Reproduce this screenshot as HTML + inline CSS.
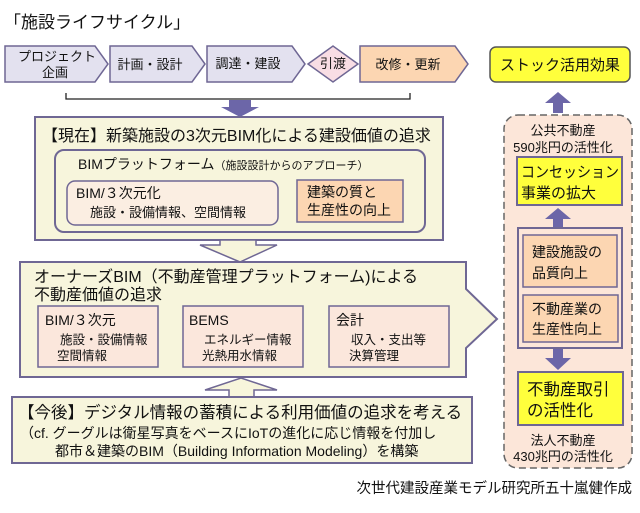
<!DOCTYPE html>
<html><head><meta charset="utf-8"><style>
body{margin:0;background:#fff}
svg{display:block}
text{font-family:"Liberation Sans","Noto Sans CJK JP",sans-serif;fill:#111}
</style></head><body>
<svg width="640" height="513" viewBox="0 0 640 513" xmlns="http://www.w3.org/2000/svg">
<text x="4" y="28" font-size="17">「施設ライフサイクル」</text>
<g stroke="#6f6794" stroke-width="1.5">
<polygon points="5,46 95,46 108,64 95,82 5,82" fill="#e3e1ef"/>
<polygon points="110,46 192,46 205,64 192,82 110,82" fill="#e3e1ef"/>
<polygon points="207,46 292,46 305,64 292,82 207,82" fill="#e3e1ef"/>
<polygon points="308,64 333,46 358,64 333,82" fill="#f8dde4"/>
<polygon points="360,46 455,46 468,64 455,82 360,82" fill="#fcd6b2"/>
</g>
<text x="57" y="61" font-size="13" text-anchor="middle">プロジェクト</text>
<text x="55" y="77" font-size="13" text-anchor="middle">企画</text>
<text x="150" y="69" font-size="13" text-anchor="middle">計画・設計</text>
<text x="248" y="68" font-size="13" text-anchor="middle">調達・建設</text>
<text x="333" y="68" font-size="13" text-anchor="middle">引渡</text>
<text x="408" y="69" font-size="13" text-anchor="middle">改修・更新</text>
<path d="M66,93 V99 H410 V93" fill="none" stroke="#222" stroke-width="1.3"/>
<polygon points="229,100 251,100 251,107 259,107 240,117 221,107 229,107" fill="#6c66a8"/>
<rect x="35" y="117" width="408" height="123" fill="#f7f5dc" stroke="#6f6794" stroke-width="2"/>
<text x="42" y="141" font-size="16">【現在】新築施設の3次元BIM化による建設価値の追求</text>
<rect x="55" y="150" width="370" height="82" rx="9" fill="#f7f5dc" stroke="#6f6794" stroke-width="2"/>
<text x="78" y="169" font-size="14">BIMプラットフォーム<tspan font-size="11">（施設設計からのアプローチ）</tspan></text>
<rect x="67" y="181" width="211" height="44" rx="8" fill="#fbeee2" stroke="#6f6794" stroke-width="1.5"/>
<text x="76" y="198" font-size="14">BIM/３次元化</text>
<text x="90" y="217" font-size="13">施設・設備情報、空間情報</text>
<rect x="297" y="180" width="106" height="42" fill="#fcd6b2" stroke="#6f6794" stroke-width="1.5"/>
<text x="307" y="197" font-size="14">建築の質と</text>
<text x="307" y="215" font-size="14">生産性の向上</text>
<polygon points="220,240 220,245 200,245 240,262 277,245 256,245 256,240" fill="#f7f5dc" stroke="#6f6794" stroke-width="1.5"/>
<polygon points="20,262 466,262 466,289 497,319 466,348 466,377 20,377" fill="#f7f5dc" stroke="#6f6794" stroke-width="2"/>
<text x="34" y="282" font-size="16">オーナーズBIM（不動産管理プラットフォーム)による</text>
<text x="34" y="300" font-size="16">不動産価値の追求</text>
<g fill="#fbe7dc" stroke="#6f6794" stroke-width="1.5">
<rect x="38" y="306" width="120" height="61"/>
<rect x="183" y="306" width="120" height="61"/>
<rect x="329" y="306" width="120" height="61"/>
</g>
<text x="45" y="325" font-size="14">BIM/３次元</text>
<text x="60" y="344" font-size="12.5">施設・設備情報</text>
<text x="57" y="360" font-size="12.5">空間情報</text>
<text x="189" y="325" font-size="14">BEMS</text>
<text x="204" y="344" font-size="12.5">エネルギー情報</text>
<text x="202" y="360" font-size="12.5">光熱用水情報</text>
<text x="336" y="325" font-size="14">会計</text>
<text x="351" y="344" font-size="12.5">収入・支出等</text>
<text x="349" y="360" font-size="12.5">決算管理</text>
<polygon points="229,398 229,390 205,390 241,378 277,390 254,390 254,398" fill="#f7f5dc" stroke="#6f6794" stroke-width="1.5"/>
<rect x="12" y="397" width="460" height="66" fill="#f7f5dc" stroke="#6f6794" stroke-width="2"/>
<text x="18" y="418" font-size="16.5">【今後】デジタル情報の蓄積による利用価値の追求を考える</text>
<text x="20" y="438" font-size="14">（cf. グーグルは衛星写真をベースにIoTの進化に応じ情報を付加し</text>
<text x="55" y="456" font-size="14">都市＆建築のBIM（Building Information Modeling）を構築</text>
<text x="632" y="493" font-size="14.5" text-anchor="end">次世代建設産業モデル研究所五十嵐健作成</text>
<rect x="490" y="47" width="140" height="35" rx="6" fill="#ffff3c" stroke="#555" stroke-width="1.5"/>
<text x="560" y="70" font-size="15" text-anchor="middle">ストック活用効果</text>
<polygon points="553,113 553,103 545,103 558,92 571,103 563,103 563,113" fill="#6c66a8"/>
<rect x="504" y="115" width="128" height="353" rx="14" fill="#fce6d9" stroke="#666" stroke-width="1.5" stroke-dasharray="7,4"/>
<text x="563" y="135" font-size="13" text-anchor="middle">公共不動産</text>
<text x="563" y="152" font-size="13" text-anchor="middle">590兆円の活性化</text>
<rect x="517" y="157" width="105" height="48" fill="#ffff3c" stroke="#6f6794" stroke-width="2"/>
<text x="521" y="177" font-size="15" textLength="98" lengthAdjust="spacingAndGlyphs">コンセッション</text>
<text x="521" y="198" font-size="15" textLength="75" lengthAdjust="spacingAndGlyphs">事業の拡大</text>
<polygon points="553,228 553,219 545,219 558,208 571,219 563,219 563,228" fill="#6c66a8"/>
<rect x="518" y="228" width="104" height="120" fill="#fce6d9" stroke="#6f6794" stroke-width="2"/>
<rect x="523" y="235" width="94" height="52" fill="#fcd6b2" stroke="#6f6794" stroke-width="1.5"/>
<text x="532" y="257" font-size="14">建設施設の</text>
<text x="532" y="278" font-size="14">品質向上</text>
<rect x="523" y="295" width="95" height="47" fill="#fcd6b2" stroke="#6f6794" stroke-width="1.5"/>
<text x="532" y="314" font-size="14">不動産業の</text>
<text x="532" y="334" font-size="14">生産性向上</text>
<polygon points="553,349 563,349 563,358 571,358 558,370 545,358 553,358" fill="#6c66a8"/>
<rect x="518" y="372" width="105" height="53" fill="#ffff3c" stroke="#6f6794" stroke-width="2"/>
<text x="527" y="395" font-size="16.5">不動産取引</text>
<text x="527" y="416" font-size="16.5">の活性化</text>
<text x="563" y="445" font-size="13" text-anchor="middle">法人不動産</text>
<text x="563" y="461" font-size="13" text-anchor="middle">430兆円の活性化</text>
</svg>
</body></html>
